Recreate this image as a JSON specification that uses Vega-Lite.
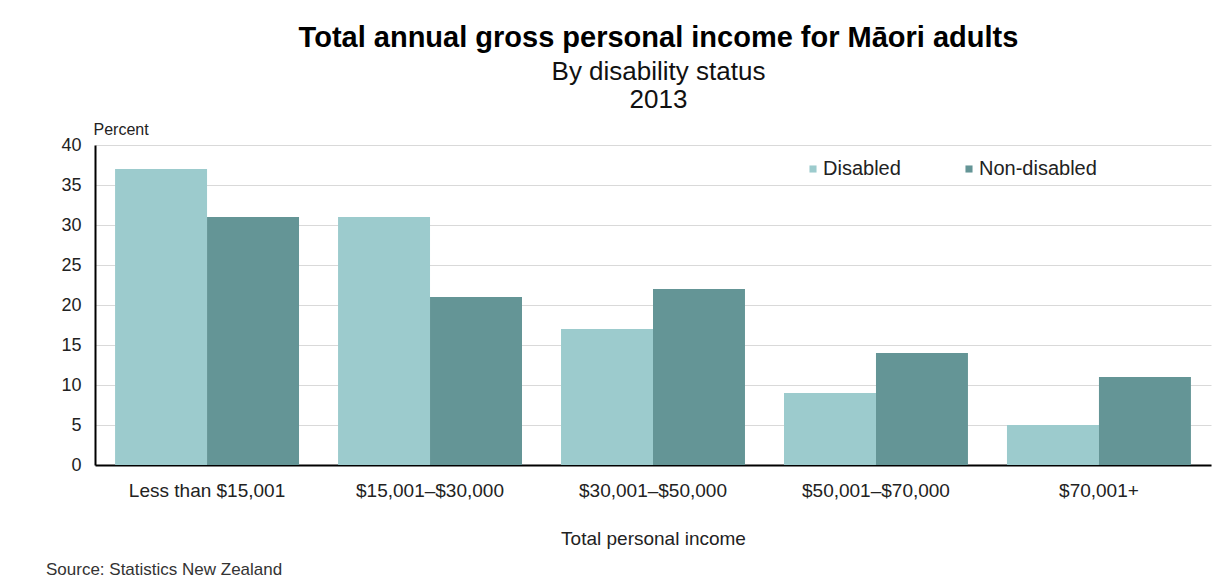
{
  "$schema": "https://vega.github.io/schema/vega-lite/v6.json",
  "background": "white",
  "padding": {"left": 45, "top": 24, "right": 10, "bottom": 5},
  "config": {
    "font": "Liberation Sans",
    "view": {"stroke": null},
    "concat": {"spacing": 0}
  },
  "title": {
    "text": "Total annual gross personal income for Māori adults",
    "subtitle": ["By disability status", "2013"],
    "fontSize": 29,
    "fontWeight": "bold",
    "color": "#000000",
    "subtitleFontSize": 26,
    "subtitleColor": "#111111",
    "subtitleFont": "Liberation Sans",
    "subtitlePadding": 6,
    "subtitleLineHeight": 28,
    "anchor": "middle",
    "dx": 30,
    "offset": 8
  },
  "vconcat": [
    {
      "width": 1116,
      "height": 320,
      "title": {
        "text": "Source: Statistics New Zealand",
        "orient": "bottom",
        "anchor": "start",
        "fontSize": 17,
        "fontWeight": "normal",
        "color": "#333333",
        "dx": -15,
        "offset": 14
      },
      "data": {
        "values": [
          {"income": "Less than $15,001", "status": "Disabled", "percent": 37},
          {"income": "Less than $15,001", "status": "Non-disabled", "percent": 31},
          {"income": "$15,001–$30,000", "status": "Disabled", "percent": 31},
          {"income": "$15,001–$30,000", "status": "Non-disabled", "percent": 21},
          {"income": "$30,001–$50,000", "status": "Disabled", "percent": 17},
          {"income": "$30,001–$50,000", "status": "Non-disabled", "percent": 22},
          {"income": "$50,001–$70,000", "status": "Disabled", "percent": 9},
          {"income": "$50,001–$70,000", "status": "Non-disabled", "percent": 14},
          {"income": "$70,001+", "status": "Disabled", "percent": 5},
          {"income": "$70,001+", "status": "Non-disabled", "percent": 11}
        ]
      },
      "mark": {"type": "bar"},
      "encoding": {
        "x": {
          "field": "income",
          "type": "nominal",
          "sort": null,
          "scale": {"paddingInner": 0.175, "paddingOuter": 0.09},
          "axis": {
            "title": "Total personal income",
            "titleFontSize": 19,
            "titleFontWeight": "normal",
            "titleColor": "#222222",
            "titlePadding": 29,
            "labelAngle": 0,
            "labelFontSize": 19,
            "labelColor": "#222222",
            "labelPadding": 16,
            "ticks": false,
            "domainColor": "#000000",
            "domainWidth": 2
          }
        },
        "xOffset": {"field": "status", "type": "nominal", "sort": ["Disabled", "Non-disabled"]},
        "y": {
          "field": "percent",
          "type": "quantitative",
          "scale": {"domain": [0, 40]},
          "axis": {
            "values": [0, 5, 10, 15, 20, 25, 30, 35, 40],
            "title": "Percent",
            "titleAngle": 0,
            "titleX": -2,
            "titleY": -8,
            "titleAlign": "left",
            "titleBaseline": "bottom",
            "titleFontSize": 16,
            "titleFontWeight": "normal",
            "titleColor": "#222222",
            "labelFontSize": 18,
            "labelColor": "#222222",
            "labelPadding": 14,
            "ticks": false,
            "domainColor": "#000000",
            "domainWidth": 2,
            "gridColor": "#d9d9d9",
            "gridWidth": 1
          }
        },
        "color": {
          "field": "status",
          "type": "nominal",
          "sort": ["Disabled", "Non-disabled"],
          "scale": {"domain": ["Disabled", "Non-disabled"], "range": ["#9ccbcd", "#649596"]},
          "legend": {
            "title": null,
            "orient": "none",
            "direction": "horizontal",
            "legendX": 708,
            "legendY": 14,
            "symbolType": "square",
            "symbolSize": 50,
            "symbolStrokeWidth": 0,
            "labelFontSize": 20,
            "labelColor": "#222222",
            "labelOffset": 0,
            "columnPadding": 58
          }
        }
      }
    }
  ]
}
